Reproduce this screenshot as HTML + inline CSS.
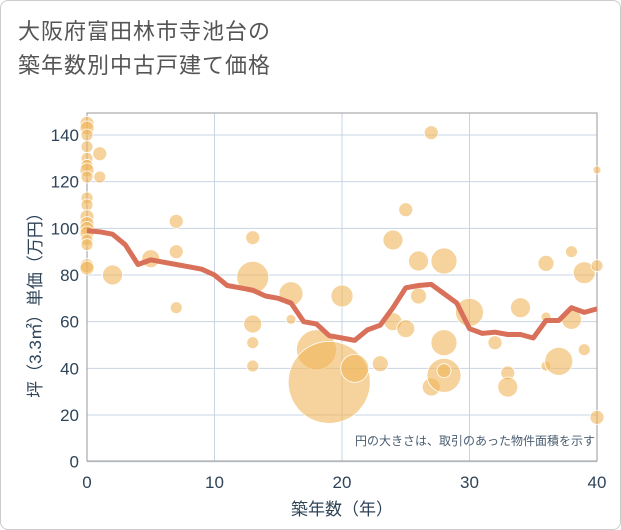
<!DOCTYPE html>
<html><head><meta charset="utf-8"><style>
body{margin:0;background:#fff;}
#wrap{position:relative;width:619px;height:528px;border:1px solid #ccc;border-radius:8px;overflow:hidden;background:#fff;font-family:"Liberation Sans","Noto Sans CJK JP",sans-serif;}
.title{position:absolute;left:17px;top:14px;font-size:22px;line-height:34px;color:#555;letter-spacing:1px;}
</style></head><body>
<div id="wrap">
<div class="title">大阪府富田林市寺池台の<br>築年数別中古戸建て価格</div>
<svg id="chart" width="621" height="530" style="position:absolute;left:0;top:0"></svg>
</div>
<script>
const xTicks=[0,10,20,30,40];
const yTicks=[0,20,40,60,80,100,120,140];
const avgYears=[0,1,2,3,4,5,6,7,8,9,10,11,12,13,14,15,16,17,18,19,20,21,22,23,24,25,26,27,28,29,30,31,32,33,34,35,36,37,38,39,40];
const avgPrice=[99,98.5,97.5,93,84.5,86.5,85.5,84.5,83.5,82.5,80,75.5,74.5,73.5,71,70,68,60,59,54,53,52,56.5,58.5,66,74.5,75.5,76,72,68,57,55,55.5,54.5,54.5,53,60.5,60.5,66,64,65.5];
const bubX=[0,0,0,0,0,0,0,0,0,0,0,0,0,0,0,0,0,0,1,1,2,5,7,7,7,13,13,13,13,13,16,16,18,19,20,21,23,24,24,25,25,26,26,27,27,28,28,28,28,30,32,33,33,34,36,36,36,37,38,38,39,39,40,40,40];
const bubY=[145,143,140,135,130,127,125,122,113,110,105,102,100,98,95,93,84,83,132,122,80,87,103,90,66,96,79,59,51,41,72,61,48,34,71,40,42,95,60,108,57,86,71,141,32,86,51,37,39,64,51,38,32,66,85,62,41,43,90,61,81,48,125,84,19];
const bubR=[7,7,6,6,6,6,7,6,6,6,7,7,7,7,6,6,7,7,7,6,10,9,7,7,6,7,16,9,6,6,12,5,20,41,11,14,8,10,9,7,9,10,8,7,9,13,13,17,7,14,7,7,10,10,8,5,5,14,6,10,11,6,4,6,7];
const L=86,R=596,T=112,B=460;
const xs=v=>L+(v/40)*(R-L);
const ys=v=>460.7-v*(326.7/140);
const svg=document.getElementById('chart');
const NS='http://www.w3.org/2000/svg';
function mk(t,a){const e=document.createElementNS(NS,t);for(const k in a)e.setAttribute(k,a[k]);svg.appendChild(e);return e;}
yTicks.forEach(v=>{
 const g=mk('line',{x1:L,x2:R,y1:ys(v),y2:ys(v),stroke:'#c9d5e3','stroke-width':1});
 
 
 const t=mk('text',{x:L-8,y:ys(v)+6,'text-anchor':'end','font-size':17,fill:'#2f4458'});
 t.textContent=v;
 
 
});
xTicks.forEach(v=>{
 const g=mk('line',{x1:xs(v),x2:xs(v),y1:T,y2:B,stroke:'#c9d5e3','stroke-width':1});
 
 
 const t=mk('text',{x:xs(v),y:487,'text-anchor':'middle','font-size':17,fill:'#2f4458'});
 t.textContent=v;
 
 
});
const fr=mk('rect',{x:L,y:T,width:R-L,height:B-T,fill:'none',stroke:'#999','stroke-width':1});


bubX.forEach((x,i)=>{
 const c=mk('circle',{cx:xs(x),cy:ys(bubY[i]),r:bubR[i],fill:'rgba(240,182,90,0.6)',stroke:'#fff','stroke-width':0.8});
 
 
});
const p=mk('polyline',{points:avgYears.map((x,i)=>xs(x)+','+ys(avgPrice[i])).join(' '),fill:'none',stroke:'#d9705a','stroke-width':5,'stroke-linejoin':'round'});


const n=mk('text',{x:594,y:444,'text-anchor':'end','font-size':12,fill:'#4a5d70'});
n.textContent='円の大きさは、取引のあった物件面積を示す';


const xt=mk('text',{x:341,y:514,'text-anchor':'middle','font-size':17,fill:'#2f4458'});
xt.textContent='築年数（年）';


const yt=mk('text',{x:0,y:0,'text-anchor':'middle','font-size':17,fill:'#2f4458',transform:'translate(40,300) rotate(-90)'});
yt.textContent='坪（3.3㎡）単価（万円）';


</script>
</body></html>
